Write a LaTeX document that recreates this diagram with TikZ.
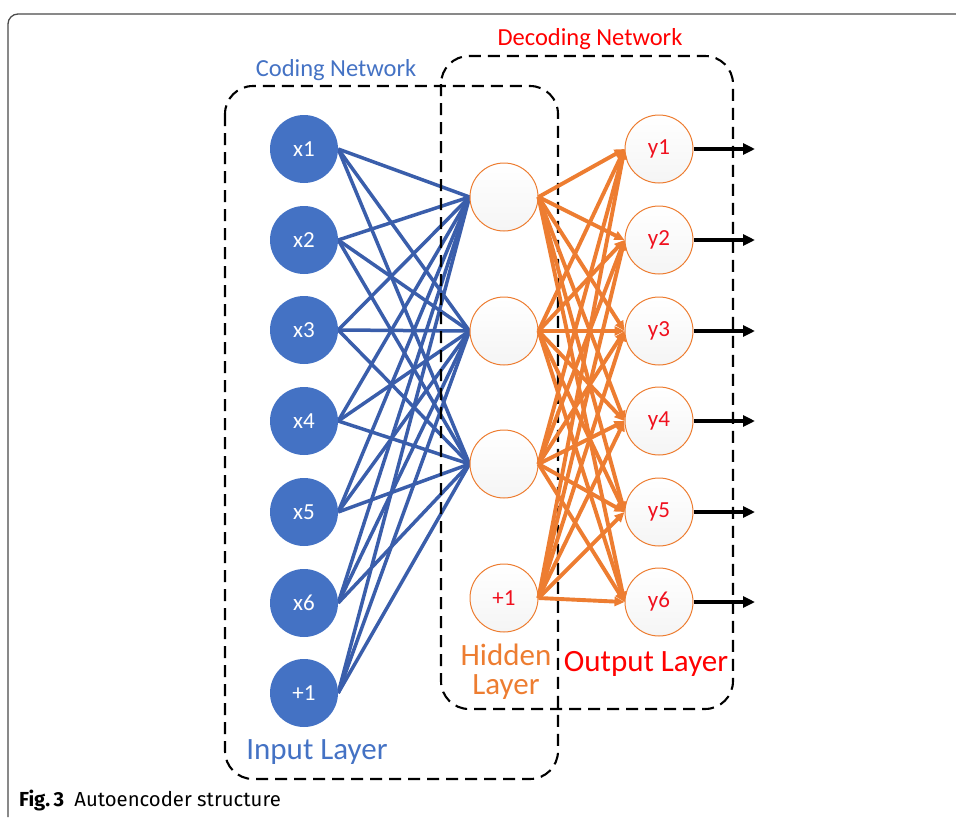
\documentclass[tikz,border=0pt]{standalone}
\usepackage{fontspec}
\setmainfont{Carlito}
\newfontfamily\capfont{Fira Sans}
\usetikzlibrary{arrows.meta,backgrounds}
\definecolor{inblue}{HTML}{4472C4}
\definecolor{wireblue}{HTML}{3A5EAB}
\definecolor{hidorange}{HTML}{ED7D31}
\definecolor{outred}{HTML}{F0101E}
\definecolor{framegray}{HTML}{4A4A4A}
\tikzset{
  inneuron/.style={circle,fill=inblue,draw=none,minimum size=68pt,inner sep=0pt,
    text=white,font=\fontsize{23}{26}\selectfont},
  hidneuron/.style={circle,draw=hidorange,line width=1pt,minimum size=68pt,inner sep=0pt,
    top color=white,bottom color=black!4,text=outred,font=\fontsize{23}{26}\selectfont},
  outneuron/.style={hidneuron},
  encwire/.style={draw=wireblue,line width=3.5pt},
  decwire/.style={draw=hidorange,line width=3.9pt,-{Triangle[length=10pt,width=9pt]}},
  outwire/.style={draw=black,line width=4pt,-{Triangle[length=12pt,width=11pt]}},
  netbox/.style={draw=black,line width=2.1pt,dash pattern=on 12pt off 7pt,rounded corners=28pt},
  boxlabel/.style={font=\fontsize{24.5}{28}\selectfont},
  layerlabel/.style={font=\fontsize{31}{34}\selectfont},
}
\begin{document}
\begin{tikzpicture}[x=1pt,y=-1pt]
\useasboundingbox (0,0) rectangle (956,817);
% page frame
\draw[framegray,line width=1.3pt,rounded corners=10pt] (8,817) -- (8,14) -- (956,14);

% network groups
\draw[netbox] (225,86) rectangle (558,779);
\draw[netbox] (441,56) rectangle (733,709);
\node[boxlabel,text=inblue] (codelbl) at (336,70) {Coding Network};
\node[boxlabel,text=red] (decodelbl) at (590,39) {Decoding Network};

% input layer
\foreach \i/\y/\t in {1/149/x1,2/240/x2,3/330/x3,4/421/x4,5/512/x5,6/603/x6,7/693/+1}
  \node[inneuron] (in\i) at (304,\y) {\t};
% hidden layer
\foreach \j/\y/\t in {1/197/,2/331/,3/464/,4/598/+1}
  \node[hidneuron] (hid\j) at (504,\y) {\t};
% output layer
\foreach \k/\y in {1/149,2/240,3/331,4/421,5/512,6/602}
  \node[outneuron] (out\k) at (659,\y) {y\k};
% free ends of output arrows
\foreach \k/\y in {1/149,2/240,3/331,4/421,5/512,6/602}
  \coordinate (end\k) at (755,\y);

\begin{scope}[on background layer]
  \foreach \i in {1,...,7}
    \foreach \j in {1,2,3}
      \draw[encwire] (in\i.east) -- (hid\j.west);
\end{scope}
\foreach \j in {1,...,4}
  \foreach \k in {1,...,6}
    \draw[decwire] (hid\j.east) -- (out\k.west);
\foreach \k in {1,...,6}
  \draw[outwire] (out\k.east) -- (end\k);

% layer names
\node[layerlabel,text=inblue] (inlbl) at (317,752) {Input Layer};
\node[layerlabel,text=hidorange,align=center,inner sep=0pt] (hidlbl) at (506,672) {Hidden\\[-5pt]Layer};
\node[layerlabel,text=red] (outlbl) at (646,664) {Output Layer};

% caption
\node[anchor=base west,inner sep=0pt,font=\capfont\fontsize{20.3}{24}\selectfont] (caption) at (19,806)
  {\textbf{Fig.\,3}\enspace Autoencoder structure};
\end{tikzpicture}
\end{document}
